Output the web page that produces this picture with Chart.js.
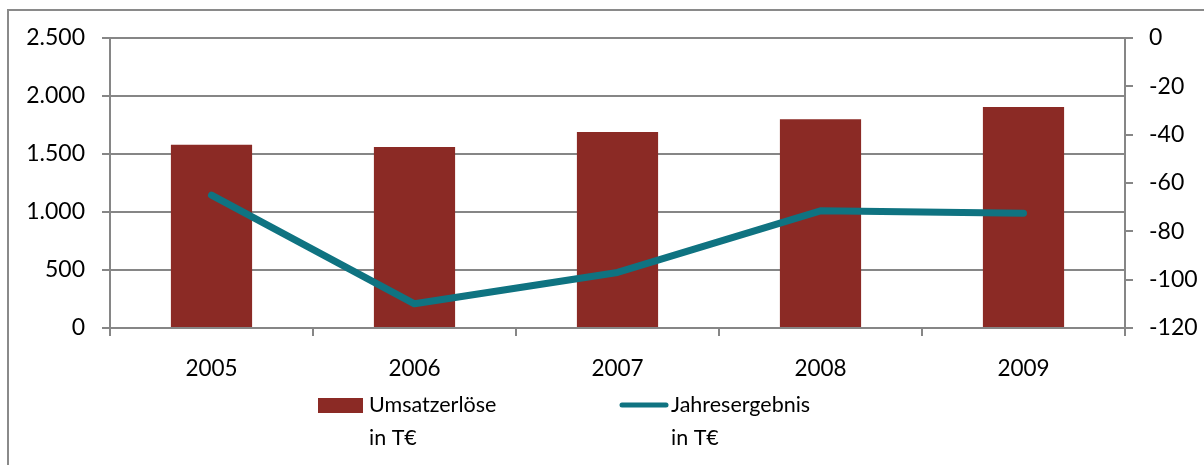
<!DOCTYPE html>
<html><head><meta charset="utf-8">
<script src="https://cdn.jsdelivr.net/npm/chart.js@4/dist/chart.umd.min.js"></script>
<style>html,body{margin:0;padding:0;background:#fff}#wrap{width:1204px;height:465px}</style>
</head><body><div id="wrap"><canvas id="c" width="1204" height="465"></canvas></div>
<script>
const years = ['2005','2006','2007','2008','2009'];
const umsatz = [1580, 1560, 1690, 1800, 1905];
const ergebnis = [-65, -110, -97, -71.5, -72.5];
const leftTicks = ['0','500','1.000','1.500','2.000','2.500'];
const rightTicks = ['-120','-100','-80','-60','-40','-20','0'];
const seriesLabels = [['Umsatzerlöse','in T€'],['Jahresergebnis','in T€']];
const barColor = '#8B2A25';
const lineColor = '#0F7381';
const gridColor = '#868686';
const FONT = 'Lato';

const frame = {
  id:'frame',
  beforeDraw(chart){
    const c = chart.ctx;
    c.save();
    c.fillStyle='#fff'; c.fillRect(0,0,chart.width,chart.height);
    c.strokeStyle='#8a8a8a'; c.lineWidth=2;
    c.beginPath(); c.moveTo(8,465); c.lineTo(8,10); c.lineTo(1204,10); c.stroke();
    c.restore();
  },
  afterDraw(chart){
    const c = chart.ctx;
    c.save();
    c.font = '21.5px '+FONT; c.fillStyle='#000'; c.textBaseline='middle';
    c.fillStyle = barColor; c.fillRect(318,398,45,15);
    c.fillStyle='#000';
    c.fillText(seriesLabels[0][0],369,405); c.fillText(seriesLabels[0][1],369,438);
    c.strokeStyle=lineColor; c.lineWidth=5; c.lineCap='round';
    c.beginPath(); c.moveTo(622,405); c.lineTo(666,405); c.stroke();
    c.fillText(seriesLabels[1][0],671,405); c.fillText(seriesLabels[1][1],671,438);
    c.restore();
  }
};

new Chart(document.getElementById('c'), {
  data:{
    labels: years,
    datasets:[
      {type:'line', label:seriesLabels[1].join(' '), data:ergebnis, yAxisID:'y2', borderColor:lineColor, borderWidth:7, pointRadius:0, borderCapStyle:'round', borderJoinStyle:'round', tension:0, order:0},
      {type:'bar', label:seriesLabels[0].join(' '), data:umsatz, yAxisID:'y', backgroundColor:barColor, barPercentage:0.4, categoryPercentage:1, order:1}
    ]
  },
  options:{
    responsive:false, animation:false, devicePixelRatio:1,
    layout:{padding:{top:38,left:0,right:0,bottom:0}},
    plugins:{legend:{display:false}, tooltip:{enabled:false}},
    scales:{
      x:{
        offset:true,
        grid:{offset:true, drawOnChartArea:false, drawTicks:true, tickLength:8, color:gridColor, lineWidth:2},
        border:{display:true, color:gridColor, width:2},
        ticks:{font:{family:FONT,size:22.5}, color:'#000', padding:19},
        afterFit(s){ s.height = 465-38-290; }
      },
      y:{
        position:'left', min:0, max:2500,
        ticks:{stepSize:500, font:{family:FONT,size:23}, color:'#000', padding:17,
          callback:(v)=>leftTicks[Math.round(v/500)]},
        grid:{color:gridColor, lineWidth:2, tickLength:8},
        border:{display:true, color:gridColor, width:2},
        afterFit(s){ s.width = 110; }
      },
      y2:{
        position:'right', min:-120, max:0,
        ticks:{stepSize:20, font:{family:FONT,size:23}, color:'#000', padding:16,
          callback:(v)=>rightTicks[Math.round((v+120)/20)]},
        grid:{drawOnChartArea:false, color:gridColor, lineWidth:2, tickLength:8},
        border:{display:true, color:gridColor, width:2},
        afterFit(s){ s.width = 1204-1125; }
      }
    }
  },
  plugins:[frame]
});
</script></body></html>
